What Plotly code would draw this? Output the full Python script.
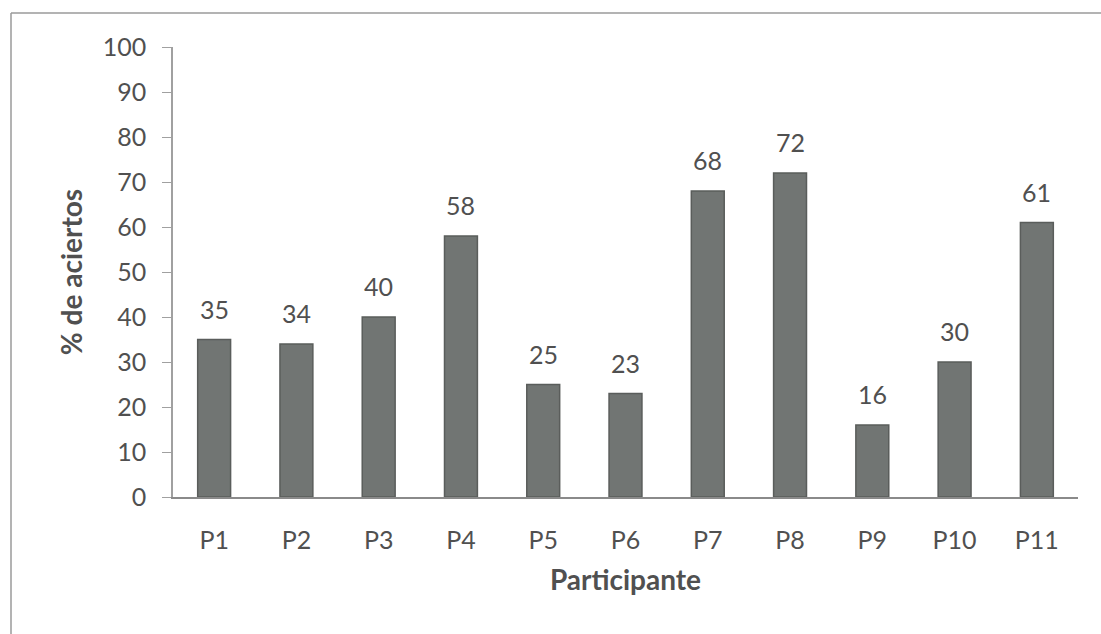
import plotly.graph_objects as go

participants = ["P1", "P2", "P3", "P4", "P5", "P6", "P7", "P8", "P9", "P10", "P11"]
aciertos = [35, 34, 40, 58, 25, 23, 68, 72, 16, 30, 61]
y_ticks = [0, 10, 20, 30, 40, 50, 60, 70, 80, 90, 100]

FONT = "Lato"
TXT = "#505050"

fig = go.Figure()
fig.add_trace(go.Bar(
    x=participants, y=aciertos, width=0.40,
    marker=dict(color="#717573", line=dict(color="#5a5d5b", width=1.5)),
    hoverinfo="x+y",
))

for p, v in zip(participants, aciertos):
    fig.add_annotation(x=p, y=v, text=str(v), showarrow=False,
                       yanchor="middle", yshift=31,
                       font=dict(family=FONT, size=25, color=TXT))

# outer frame (left and top edges visible)
fig.add_shape(type="line", xref="paper", yref="paper",
              x0=-0.179, x1=1.05, y0=1.0756, y1=1.0756,
              line=dict(color="#9a9a9a", width=1.5))
fig.add_shape(type="line", xref="paper", yref="paper",
              x0=-0.179, x1=-0.179, y0=1.0756, y1=-0.35,
              line=dict(color="#9a9a9a", width=1.5))

fig.update_layout(
    width=1101, height=634,
    margin=dict(l=173, r=23, t=47, b=137),
    paper_bgcolor="white", plot_bgcolor="white",
    showlegend=False,
    font=dict(family=FONT, size=25, color=TXT),
    bargap=0.6,
)
fig.update_xaxes(
    showline=True, linecolor="#8a8a8a", linewidth=1.5,
    ticks="", ticklabelstandoff=20,
    tickfont=dict(family=FONT, size=25, color=TXT),
    title=dict(text="<b>Participante</b>", standoff=18,
               font=dict(family=FONT, size=28, color=TXT)),
    showgrid=False,
)
fig.update_yaxes(
    range=[0, 100], tickvals=y_ticks,
    showline=True, linecolor="#a0a0a0", linewidth=1.5,
    ticks="outside", ticklen=9, tickcolor="#a0a0a0", ticklabelstandoff=11,
    tickfont=dict(family=FONT, size=25, color=TXT),
    title=dict(text="<b>% de aciertos</b>", standoff=12,
               font=dict(family=FONT, size=28, color=TXT)),
    showgrid=False, zeroline=False,
)

fig.write_html("out.html")
